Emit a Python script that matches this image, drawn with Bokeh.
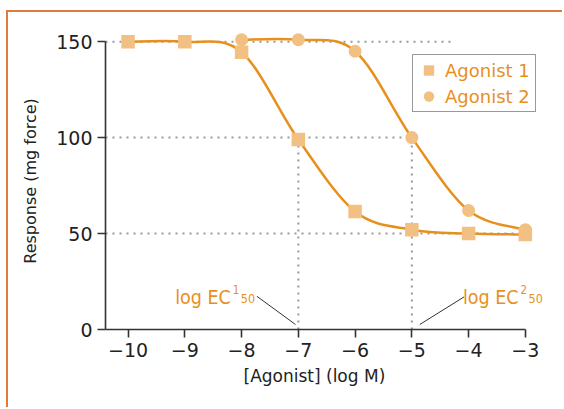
import numpy as np
from bokeh.plotting import figure
from bokeh.models import (ColumnDataSource, FixedTicker, Legend, LegendItem, Title)
from bokeh.core.properties import value
from bokeh.embed import file_html
from bokeh.resources import INLINE

# ---------------- data ----------------
agonist1_x = [-10, -9, -8, -7, -6, -5, -4, -3]
agonist1_y = [150, 150, 144.5, 99, 61.5, 52, 50, 49.5]
agonist2_x = [-8, -7, -6, -5, -4, -3]
agonist2_y = [151, 151, 145, 100, 62, 52]

x_ticks = [-10, -9, -8, -7, -6, -5, -4, -3]
x_tick_labels = ["\u221210", "\u22129", "\u22128", "\u22127", "\u22126", "\u22125", "\u22124", "\u22123"]
y_ticks = [0, 50, 100, 150]

# dotted reference lines
ref_h_level = [150, 100, 50]
ref_h_end = [-4.24, -5, -3]
ref_v_x = [-7, -5]
ref_v_top = [100, 100]

# log EC50 annotations
ec_sup = ["1", "2"]
ec_text_x = [-8.19, -3.12]      # right edge of "log EC"
ec_text_y = [16.8, 16.8]        # baseline
ec_leader_x0 = [-7.73, -4.08]
ec_leader_y0 = [17.3, 17.0]
ec_leader_x1 = [-7.05, -4.86]
ec_leader_y1 = [2.6, 2.6]

LINE = "#E8901E"
MARK = "#F1C082"
TEXT_OR = "#E8901E"
AX = "#333333"
BORDER = "#E07A3A"
FONT = "DejaVu Sans"
CFONT = "DejaVu Sans Condensed, DejaVu Sans"


def catmull_bezier(xs, ys):
    xs = np.asarray(xs, float)
    ys = np.asarray(ys, float)
    n = len(xs)
    px = np.concatenate([[xs[0]], xs, [xs[-1]]])
    py = np.concatenate([[ys[0]], ys, [ys[-1]]])
    return dict(
        x0=px[1:n], y0=py[1:n],
        x1=px[2:n + 1], y1=py[2:n + 1],
        cx0=px[1:n] + (px[2:n + 1] - px[0:n - 1]) / 6.0,
        cy0=py[1:n] + (py[2:n + 1] - py[0:n - 1]) / 6.0,
        cx1=px[2:n + 1] - (px[3:n + 2] - px[1:n]) / 6.0,
        cy1=py[2:n + 1] - (py[3:n + 2] - py[1:n]) / 6.0,
    )


# page geometry (px)
OX, OY = 10, 14                 # canvas origin on the page (inside the orange frame)
W, H = 564 - OX, 409 - OY
left, right, top, bottom = 107, 560, 34, 329   # plot frame on page
px_per_x = 56.5
x0_px = 129.5     # page px of x = -10
y_per_px = 50 / 95.3

x_start = -10 + (left - x0_px) / px_per_x
x_end = -10 + (right - x0_px) / px_per_x
y_end = (bottom - top) * y_per_px

p = figure(width=W, height=H, x_range=(x_start, x_end), y_range=(0, y_end),
           output_backend="svg", toolbar_location=None, title=None,
           min_border_left=left - OX, min_border_right=564 - right,
           min_border_top=top - OY, min_border_bottom=409 - bottom)
p.styles = {"margin-left": "6px", "margin-top": "10px",
            "border-left": f"2px solid {BORDER}", "border-top": f"2px solid {BORDER}",
            "box-sizing": "content-box"}
p.outline_line_color = None
p.xgrid.visible = False
p.ygrid.visible = False
p.background_fill_color = "white"
p.border_fill_color = "white"

# axes
for ax in (p.xaxis[0], p.yaxis[0]):
    ax.axis_line_color = AX
    ax.axis_line_width = 1.6
    ax.major_tick_line_color = AX
    ax.major_tick_line_width = 1.6
    ax.major_tick_out = 8
    ax.major_tick_in = 0
    ax.minor_tick_line_color = None
    ax.major_label_text_color = "#222222"
    ax.major_label_text_font = FONT
    ax.major_label_text_font_size = "19px"
    ax.axis_label_text_font = FONT
    ax.axis_label_text_font_style = "normal"
    ax.axis_label_text_color = "#222222"
    ax.major_label_standoff = 5

p.xaxis.ticker = FixedTicker(ticks=x_ticks)
p.xaxis.major_label_overrides = {t: l for t, l in zip(x_ticks, x_tick_labels)}
p.xaxis.bounds = (x_start, x_ticks[-1])

p.yaxis.ticker = FixedTicker(ticks=y_ticks)
p.yaxis.bounds = (y_ticks[0], y_ticks[-1])
p.yaxis.axis_label = "Response (mg force)"
p.yaxis.axis_label_text_font_size = "16px"
p.yaxis.axis_label_standoff = 13

# x-axis title, aligned under the axis span rather than the full frame
p.add_layout(Title(text="[Agonist] (log M)", align="left", offset=245 - left,
                   text_font=FONT, text_font_size="17px", text_font_style="normal",
                   text_color="#222222", standoff=8), "below")

# dotted reference lines
p.segment(x0=[x_start] * len(ref_h_level), y0=ref_h_level, x1=ref_h_end, y1=ref_h_level,
          line_color="#999999", line_width=2, line_dash="2 5")
p.segment(x0=ref_v_x, y0=[0] * len(ref_v_x), x1=ref_v_x, y1=ref_v_top,
          line_color="#999999", line_width=2, line_dash="2 5")

# curves
for xs, ys in ((agonist1_x, agonist1_y), (agonist2_x, agonist2_y)):
    p.bezier(source=ColumnDataSource(catmull_bezier(xs, ys)),
             x0="x0", y0="y0", x1="x1", y1="y1", cx0="cx0", cy0="cy0", cx1="cx1", cy1="cy1",
             line_color=LINE, line_width=2.5)

r1 = p.scatter(agonist1_x, agonist1_y, marker="square", size=13.5,
               fill_color=MARK, line_color=None)
r2 = p.scatter(agonist2_x, agonist2_y, marker="circle", size=13,
               fill_color=MARK, line_color=None)

# EC50 annotations
p.segment(x0=ec_leader_x0, y0=ec_leader_y0, x1=ec_leader_x1, y1=ec_leader_y1,
          line_color=AX, line_width=1)
p.text(x=ec_text_x, y=ec_text_y, text=["log EC", "log EC"], text_align="right",
       text_baseline="alphabetic", text_color=TEXT_OR, text_font=value(CFONT),
       text_font_size="19.5px")
p.text(x=ec_text_x, y=ec_text_y, text=ec_sup, text_align="left",
       text_baseline="alphabetic", text_color=TEXT_OR, text_font=value(CFONT),
       text_font_size="11.5px", x_offset=2, y_offset=-8)
p.text(x=ec_text_x, y=ec_text_y, text=["50", "50"], text_align="left",
       text_baseline="alphabetic", text_color=TEXT_OR, text_font=value(CFONT),
       text_font_size="12.5px", x_offset=10, y_offset=1)

# legend
legend = Legend(items=[LegendItem(label="Agonist 1", renderers=[r1]),
                       LegendItem(label="Agonist 2", renderers=[r2])],
                location=(414 - left, bottom - 112),
                label_text_font=FONT, label_text_font_size="18px",
                label_text_color=TEXT_OR,
                border_line_color=AX, border_line_width=1.5,
                background_fill_color="white", background_fill_alpha=1,
                padding=2, spacing=0, glyph_width=27, glyph_height=26,
                label_height=26, label_standoff=3, label_width=88)
p.add_layout(legend)

open("out.html", "w").write(file_html(p, INLINE))
